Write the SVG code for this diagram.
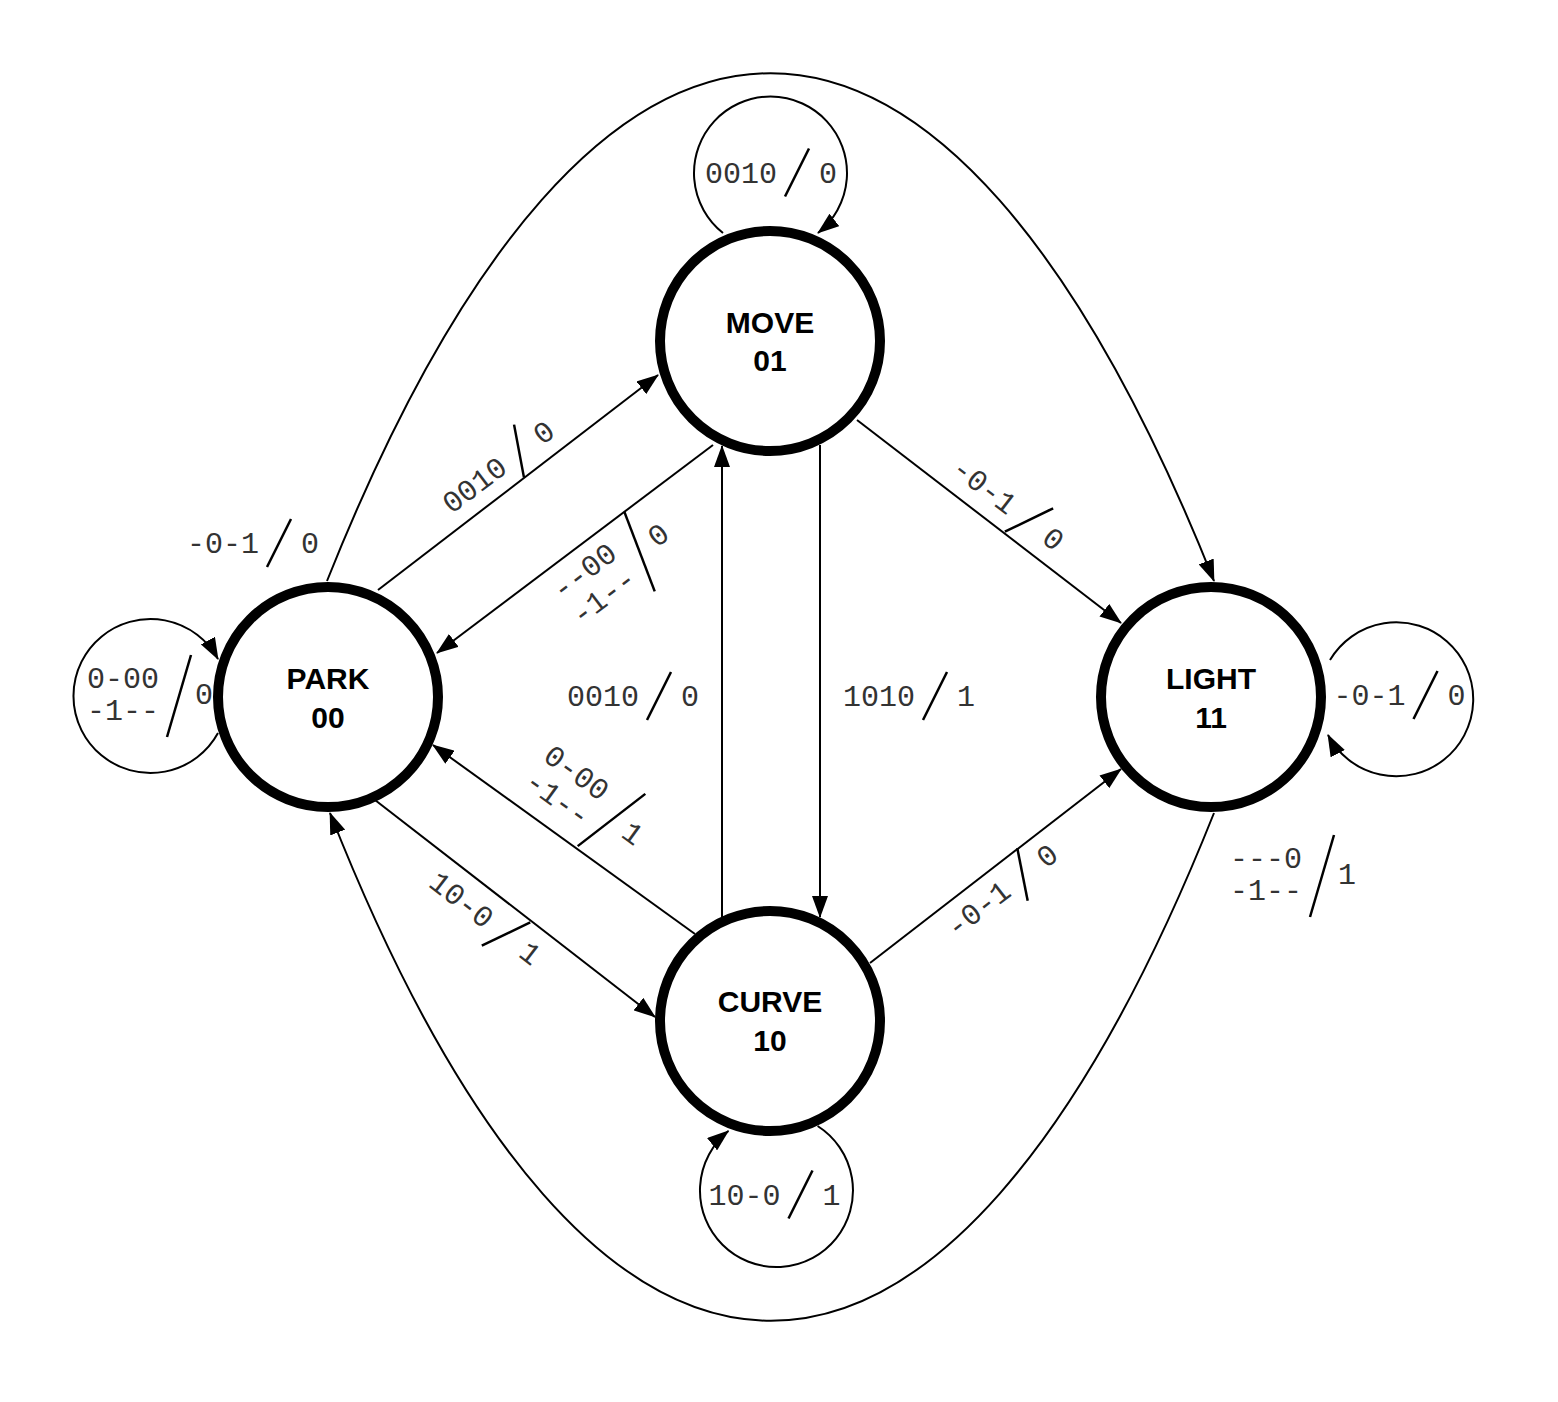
<svg xmlns="http://www.w3.org/2000/svg" width="1558" height="1402" viewBox="0 0 1558 1402">
<style>
.node{fill:#fff;stroke:#000;stroke-width:10}
.nt{font-family:"Liberation Sans",Arial,sans-serif;font-weight:bold;font-size:30px;text-anchor:middle;fill:#000}
.edge{fill:none;stroke:#000;stroke-width:2;marker-end:url(#ah)}
.lbl text{font-family:"Liberation Mono","Courier New",monospace;font-size:30px;fill:#333}
.lbl line{stroke:#000;stroke-width:2.5}
.e{text-anchor:end}
</style>
<defs>
<marker id="ah" markerWidth="22" markerHeight="16" refX="21" refY="8" orient="auto" markerUnits="userSpaceOnUse">
<path d="M0,0 L22,8 L0,16 z" fill="#000"/>
</marker>
</defs>
<rect width="1558" height="1402" fill="#fff"/>
<g id="connectors">
<path class="edge" d="M378,590 L658,375"/>
<path class="edge" d="M713,445 L437,653"/>
<path class="edge" d="M375,800 L655,1017"/>
<path class="edge" d="M695,934 L433,745"/>
<path class="edge" d="M857,420 L1121,623"/>
<path class="edge" d="M870,963 L1121,769"/>
<path class="edge" d="M722,917 L722,446"/>
<path class="edge" d="M820,445 L820,917"/>
<path class="edge" d="M327,581 C597,-96 944,-96 1214,581"/>
<path class="edge" d="M1214,813 C944,1490 597,1490 330,813"/>
<path class="edge" d="M723,233 A76.5,76.5 0 1,1 818,233"/>
<path class="edge" d="M218,733 A77,77 0 1,1 218,659"/>
<path class="edge" d="M1330,660 A77,77 0 1,1 1328,735"/>
<path class="edge" d="M817.6,1126 A76.5,76.5 0 1,1 728.4,1131"/>
</g>
<g id="labels">
<g class="lbl" transform="translate(797,172.5)"><line x1="-12" y1="24" x2="12" y2="-24"/><text class="e" x="-20" y="10">0010</text><text x="22" y="10">0</text></g>
<g class="lbl" transform="translate(179,696)"><line x1="-12" y1="41" x2="12" y2="-41"/><text class="e" x="-20" y="-8">0-00</text><text class="e" x="-20" y="24">-1--</text><text x="16" y="8">0</text></g>
<g class="lbl" transform="translate(1425.5,695)"><line x1="-12" y1="24" x2="12" y2="-24"/><text class="e" x="-20" y="10">-0-1</text><text x="22" y="10">0</text></g>
<g class="lbl" transform="translate(800.5,1194.5)"><line x1="-12" y1="24" x2="12" y2="-24"/><text class="e" x="-20" y="10">10-0</text><text x="22" y="10">1</text></g>
<g class="lbl" transform="translate(279,543)"><line x1="-12" y1="24" x2="12" y2="-24"/><text class="e" x="-20" y="10">-0-1</text><text x="22" y="10">0</text></g>
<g class="lbl" transform="translate(1322,876)"><line x1="-12" y1="41" x2="12" y2="-41"/><text class="e" x="-20" y="-8">---0</text><text class="e" x="-20" y="24">-1--</text><text x="16" y="8">1</text></g>
<g class="lbl" transform="translate(659,696)"><line x1="-12" y1="24" x2="12" y2="-24"/><text class="e" x="-20" y="10">0010</text><text x="22" y="10">0</text></g>
<g class="lbl" transform="translate(935,696)"><line x1="-12" y1="24" x2="12" y2="-24"/><text class="e" x="-20" y="10">1010</text><text x="22" y="10">1</text></g>
<g class="lbl" transform="translate(519,451) rotate(-37.2)"><line x1="-12" y1="24" x2="12" y2="-24"/><text class="e" x="-20" y="10">0010</text><text x="22" y="10">0</text></g>
<g class="lbl" transform="translate(639.5,551.5) rotate(-37.2)"><line x1="-12" y1="41" x2="12" y2="-41"/><text class="e" x="-20" y="-8">--00</text><text class="e" x="-20" y="24">-1--</text><text x="16" y="8">0</text></g>
<g class="lbl" transform="translate(611.5,820) rotate(36)"><line x1="-12" y1="41" x2="12" y2="-41"/><text class="e" x="-20" y="-8">0-00</text><text class="e" x="-20" y="24">-1--</text><text x="16" y="8">1</text></g>
<g class="lbl" transform="translate(506,934) rotate(37.8)"><line x1="-12" y1="24" x2="12" y2="-24"/><text class="e" x="-20" y="10">10-0</text><text x="22" y="10">1</text></g>
<g class="lbl" transform="translate(1029,520) rotate(37.5)"><line x1="-12" y1="24" x2="12" y2="-24"/><text class="e" x="-20" y="10">-0-1</text><text x="22" y="10">0</text></g>
<g class="lbl" transform="translate(1022.5,874.5) rotate(-37.7)"><line x1="-12" y1="24" x2="12" y2="-24"/><text class="e" x="-20" y="10">-0-1</text><text x="22" y="10">0</text></g>
</g>
<g id="node-park"><circle class="node" cx="328" cy="697" r="110"/><text class="nt" x="328" y="689">PARK</text><text class="nt" x="328" y="728">00</text></g>
<g id="node-move"><circle class="node" cx="770" cy="341" r="110"/><text class="nt" x="770" y="333">MOVE</text><text class="nt" x="770" y="371">01</text></g>
<g id="node-light"><circle class="node" cx="1211" cy="697" r="110"/><text class="nt" x="1211" y="689">LIGHT</text><text class="nt" x="1211" y="728">11</text></g>
<g id="node-curve"><circle class="node" cx="770" cy="1021" r="110"/><text class="nt" x="770" y="1012">CURVE</text><text class="nt" x="770" y="1051">10</text></g>
</svg>
